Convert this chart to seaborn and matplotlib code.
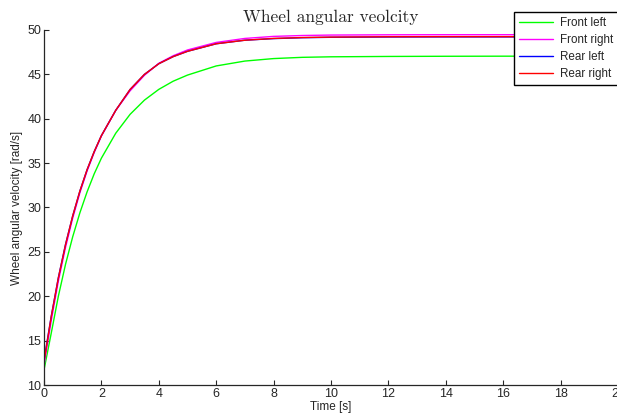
import numpy as np
import pandas as pd
import matplotlib
matplotlib.use("Agg")
import matplotlib.pyplot as plt
import seaborn as sns

# Sample times [s]
time_s = [0, 0.25, 0.5, 0.75, 1.0, 1.25, 1.5, 1.75, 2.0, 2.5, 3.0, 3.5, 4.0,
          4.5, 5.0, 6.0, 7.0, 8.0, 9.0, 10.0, 12.0, 14.0, 16.0, 18.0, 20.0]

# Wheel angular velocity [rad/s] for each wheel
front_left = [11.7, 15.8, 20.0, 23.6, 26.7, 29.4, 31.75, 33.8, 35.56, 38.37,
              40.5, 42.1, 43.31, 44.23, 44.92, 45.95, 46.5, 46.78, 46.92,
              46.98, 47.02, 47.04, 47.05, 47.05, 47.05]
front_right = [12.2, 17.2, 21.7, 25.5, 28.8, 31.65, 34.1, 36.2, 38.05, 40.95,
               43.15, 44.9, 46.25, 47.1, 47.75, 48.6, 49.05, 49.28, 49.38,
               49.43, 49.46, 49.47, 49.47, 49.47, 49.47]
rear_left = [12.8, 17.7, 22.1, 25.85, 29.05, 31.85, 34.25, 36.3, 38.1, 40.95,
             43.3, 45.0, 46.2, 47.0, 47.6, 48.45, 48.85, 49.03, 49.13, 49.18,
             49.21, 49.22, 49.22, 49.22, 49.22]
rear_right = [12.6, 17.65, 22.05, 25.8, 29.05, 31.85, 34.25, 36.3, 38.1, 40.95,
              43.3, 45.0, 46.2, 47.0, 47.6, 48.45, 48.85, 49.05, 49.15, 49.2,
              49.24, 49.25, 49.25, 49.25, 49.25]

wheel_names = ["Front left", "Front right", "Rear left", "Rear right"]
wheel_colors = ["#00ff00", "#ff00ff", "#0000ff", "#ff0000"]

x_ticks = list(range(0, 21, 2))
y_ticks = list(range(10, 51, 5))

frames = []
for name, vals in zip(wheel_names, [front_left, front_right, rear_left, rear_right]):
    frames.append(pd.DataFrame({"t": time_s, "omega": vals, "wheel": name}))
df = pd.concat(frames, ignore_index=True)

sns.set_style("ticks")
plt.rcParams["font.family"] = ["Liberation Sans", "DejaVu Sans"]
plt.rcParams["xtick.direction"] = "in"
plt.rcParams["ytick.direction"] = "in"

fig = plt.figure(figsize=(6.17, 4.18), dpi=100)
ax = fig.add_axes([44 / 617, 1 - 385 / 418, 574 / 617, 355 / 418])

sns.lineplot(data=df, x="t", y="omega", hue="wheel", hue_order=wheel_names,
             palette=dict(zip(wheel_names, wheel_colors)), linewidth=1.0,
             ax=ax, legend=True)

ax.set_xlim(0, 20)
ax.set_ylim(10, 50)
ax.set_xticks(x_ticks)
ax.set_yticks(y_ticks)
ax.tick_params(axis="both", labelsize=9, length=3.5, width=0.8, color="#262626",
               pad=2)
for side in ["top", "right"]:
    ax.spines[side].set_visible(False)
for side in ["left", "bottom"]:
    ax.spines[side].set_color("#262626")
    ax.spines[side].set_linewidth(0.9)

ax.set_xlabel("Time [s]", fontsize=8.5, labelpad=1)
ax.set_ylabel("Wheel angular velocity [rad/s]", fontsize=8.5, labelpad=3)
ax.set_title("Wheel angular veolcity", fontfamily="cmr10", fontsize=12.5, pad=6)

handles, labels = ax.get_legend_handles_labels()
leg = fig.legend(handles, labels, loc="upper left",
                 bbox_to_anchor=(514 / 617, 1 - 12 / 418), fontsize=8.4,
                 frameon=True, fancybox=False, framealpha=1, edgecolor="black",
                 borderpad=0.45, labelspacing=0.42, handlelength=2.9,
                 handletextpad=0.6, borderaxespad=0)
leg.get_frame().set_linewidth(1.0)
ax.get_legend().remove()

fig.savefig("out.png", dpi=100)
